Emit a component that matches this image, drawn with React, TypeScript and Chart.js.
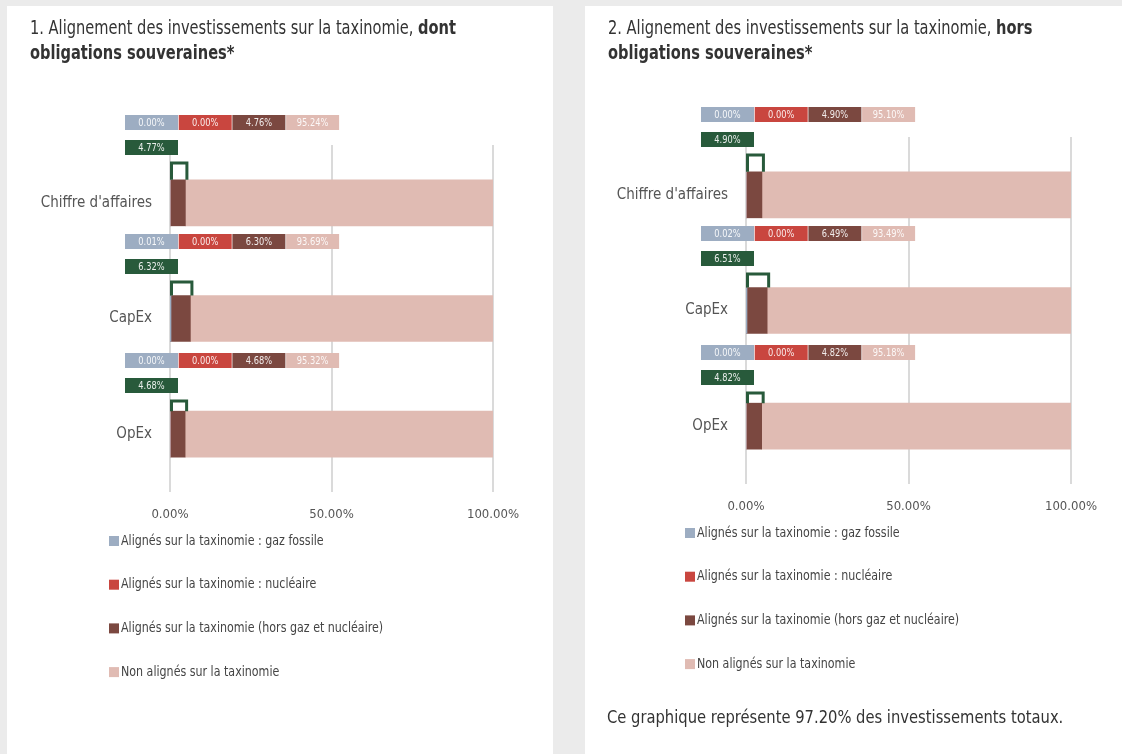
import React, { useEffect, useRef } from "react";
import { Chart, registerables } from "chart.js";

Chart.register(...registerables);

const FONT = "'Liberation Sans Narrow', 'DejaVu Sans Condensed', 'Roboto Condensed', 'Open Sans', sans-serif";

const categories = ["Chiffre d'affaires", "CapEx", "OpEx"];
const seriesLabels = [
  "Alignés sur la taxinomie : gaz fossile",
  "Alignés sur la taxinomie : nucléaire",
  "Alignés sur la taxinomie (hors gaz et nucléaire)",
  "Non alignés sur la taxinomie",
];
const seriesColors = ["#9dadc2", "#c9463f", "#7b4840", "#e0bbb3"];
const greenColor = "#285a3b";
const xTicks = [0, 50, 100];

// Panel 1 : dont obligations souveraines
const p1Gaz = [0.0, 0.01, 0.0];
const p1Nucleaire = [0.0, 0.0, 0.0];
const p1HorsGaz = [4.76, 6.3, 4.68];
const p1NonAlignes = [95.24, 93.69, 95.32];
const p1TotalAlignes = [4.77, 6.32, 4.68];

// Panel 2 : hors obligations souveraines
const p2Gaz = [0.0, 0.02, 0.0];
const p2Nucleaire = [0.0, 0.0, 0.0];
const p2HorsGaz = [4.9, 6.49, 4.82];
const p2NonAlignes = [95.1, 93.49, 95.18];
const p2TotalAlignes = [4.9, 6.51, 4.82];

const fmt = (v: number) => v.toFixed(2) + "%";

function scaledText(ctx: any, text: string, x: number, y: number, sx: number) {
  ctx.save();
  ctx.translate(x, y);
  ctx.scale(sx, 1);
  ctx.fillText(text, 0, 0);
  ctx.restore();
}

type PanelProps = {
  left: number;
  width: number;
  yWidth: number;
  padTop: number;
  padRight: number;
  padBottom: number;
  series: number[][];
  totals: number[];
  titleNormal: string;
  titleBold1: string;
  titleBold2: string;
  footer?: string;
};

const PANEL_H = 748;

function Panel(props: PanelProps) {
  const ref = useRef<HTMLCanvasElement | null>(null);
  useEffect(() => {
    if (!ref.current) return;
    const totals = props.totals;
    const overlayPlugin = {
      id: "overlay",
      afterDatasetsDraw(chart: any) {
        const ctx = chart.ctx;
        const area = chart.chartArea;
        const xs = chart.scales.x;
        const ds = chart.data.datasets;
        const meta0 = chart.getDatasetMeta(0);
        ctx.save();
        for (let i = 0; i < chart.data.labels.length; i++) {
          const rowTop = area.top - 30 + i * 119;
          const x0 = area.left - 45;
          const bw = 53;
          ctx.font = "10px " + FONT;
          ctx.textAlign = "center";
          ctx.textBaseline = "middle";
          for (let j = 0; j < ds.length; j++) {
            const bx = x0 + j * (bw + 0.7);
            ctx.fillStyle = ds[j].backgroundColor;
            ctx.fillRect(bx, rowTop, bw, 15);
            ctx.fillStyle = "rgba(255,255,255,0.9)";
            scaledText(ctx, fmt(ds[j].data[i]), bx + bw / 2, rowTop + 8, 0.92);
          }
          // green total box
          const gy = rowTop + 25;
          ctx.fillStyle = greenColor;
          ctx.fillRect(x0, gy, bw, 15);
          ctx.fillStyle = "rgba(255,255,255,0.9)";
          scaledText(ctx, fmt(totals[i]), x0 + bw / 2, gy + 8, 0.92);
          // bracket
          const el = meta0.data[i];
          const barTop = el.y - el.height / 2;
          const xl = xs.getPixelForValue(0) + 1.5;
          const xr = xs.getPixelForValue(totals[i]) + 1.5;
          const bt = rowTop + 48;
          ctx.strokeStyle = greenColor;
          ctx.lineWidth = 3;
          ctx.beginPath();
          ctx.moveTo(xl, barTop);
          ctx.lineTo(xl, bt);
          ctx.lineTo(xr, bt);
          ctx.lineTo(xr, barTop);
          ctx.stroke();
        }
        ctx.restore();
      },
      afterDraw(chart: any) {
        const ctx = chart.ctx;
        const area = chart.chartArea;
        const ds = chart.data.datasets;
        ctx.save();
        for (let j = 0; j < ds.length; j++) {
          const y = area.bottom + 49 + j * 43.7;
          const x = area.left - 61;
          ctx.fillStyle = ds[j].backgroundColor;
          ctx.fillRect(x, y - 5, 10, 10);
          ctx.fillStyle = "#444";
          ctx.font = "14px " + FONT;
          ctx.textAlign = "left";
          ctx.textBaseline = "middle";
          scaledText(ctx, ds[j].label, x + 12, y, 0.88);
        }
        ctx.restore();
      },
    };
    const chart = new Chart(ref.current, {
      type: "bar",
      data: {
        labels: categories,
        datasets: props.series.map((d, j) => ({
          label: seriesLabels[j],
          data: d,
          backgroundColor: seriesColors[j],
          borderWidth: 0,
          barThickness: 46,
        })),
      },
      options: {
        indexAxis: "y",
        animation: false,
        responsive: true,
        maintainAspectRatio: false,
        events: [],
        layout: {
          padding: { left: 0, top: props.padTop, right: props.padRight, bottom: props.padBottom },
        },
        plugins: { legend: { display: false }, tooltip: { enabled: false } },
        scales: {
          x: {
            stacked: true,
            min: 0,
            max: 100,
            afterBuildTicks: (s: any) => {
              s.ticks = xTicks.map((v) => ({ value: v }));
            },
            afterFit: (s: any) => {
              s.height = 40;
            },
            grid: { color: "#dadada", lineWidth: 2, drawTicks: false },
            border: { display: false },
            ticks: {
              padding: 15,
              color: "#555",
              font: { family: FONT, size: 13 },
              callback: (v: any) => Number(v).toFixed(2) + "%",
            },
          },
          y: {
            stacked: true,
            afterFit: (s: any) => {
              s.width = props.yWidth;
            },
            grid: { display: false, drawTicks: false },
            border: { display: false },
            ticks: { padding: 18, color: "#555", font: { family: FONT, size: 15 } },
          },
        },
      },
      plugins: [overlayPlugin],
    } as any);
    return () => chart.destroy();
  }, []);
  return (
    <div
      style={{
        position: "absolute",
        left: props.left,
        top: 6,
        width: props.width,
        height: PANEL_H,
        background: "#fff",
      }}
    >
      <div style={{ position: "absolute", left: 0, top: 0, width: props.width, height: PANEL_H }}>
        <canvas ref={ref} />
      </div>
      <div
        style={{
          position: "absolute",
          left: 23,
          top: 9,
          fontFamily: FONT,
          fontSize: 19,
          lineHeight: "25px",
          color: "#333",
          whiteSpace: "nowrap",
          transform: "scaleX(0.855)",
          transformOrigin: "0 0",
        }}
      >
        {props.titleNormal}
        <b>{props.titleBold1}</b>
        <br />
        <b>{props.titleBold2}</b>
      </div>
      {props.footer ? (
        <div
          style={{
            position: "absolute",
            left: 22,
            top: 700,
            fontFamily: FONT,
            fontSize: 18,
            color: "#333",
            whiteSpace: "nowrap",
            transform: "scaleX(0.91)",
            transformOrigin: "0 0",
          }}
        >
          {props.footer}
        </div>
      ) : null}
    </div>
  );
}

export default function App() {
  return (
    <div style={{ position: "fixed", left: 0, top: 0, width: 1122, height: 754, background: "#ebebeb", overflow: "hidden" }}>
      <Panel
        left={7}
        width={546}
        yWidth={163}
        padTop={139}
        padRight={60}
        padBottom={222}
        series={[p1Gaz, p1Nucleaire, p1HorsGaz, p1NonAlignes]}
        totals={p1TotalAlignes}
        titleNormal="1. Alignement des investissements sur la taxinomie, "
        titleBold1="dont"
        titleBold2="obligations souveraines*"
      />
      <Panel
        left={585}
        width={537}
        yWidth={161}
        padTop={131}
        padRight={51}
        padBottom={230}
        series={[p2Gaz, p2Nucleaire, p2HorsGaz, p2NonAlignes]}
        totals={p2TotalAlignes}
        titleNormal="2. Alignement des investissements sur la taxinomie, "
        titleBold1="hors"
        titleBold2="obligations souveraines*"
        footer="Ce graphique représente 97.20% des investissements totaux."
      />
    </div>
  );
}
